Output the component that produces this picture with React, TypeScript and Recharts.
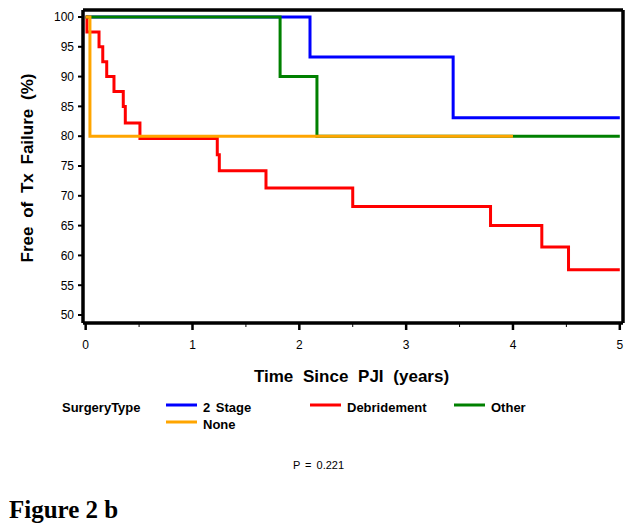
import React from 'react';
import { LineChart, Line, XAxis, YAxis } from 'recharts';

// Kaplan-Meier steps: time (years) -> % free of failure
const twoStageTimes = [0, 2.1, 3.44, 5];
const twoStageValues = [100, 93.3, 83.1, 83.1];

const debridementTimes = [0, 0.012, 0.125, 0.16, 0.197, 0.265, 0.352, 0.371, 0.508, 1.232, 1.251, 1.688, 2.5, 3.79, 4.27, 4.52, 5];
const debridementValues = [100, 97.5, 95, 92.5, 90, 87.5, 85, 82.2, 79.6, 76.9, 74.2, 71.3, 68.2, 65, 61.4, 57.6, 57.6];

const otherTimes = [0, 1.82, 2.165, 5];
const otherValues = [100, 90, 80, 80];

const noneTimes = [0, 0.04, 4.0];
const noneValues = [100, 80, 80];

const xTicks = [0, 0.5, 1, 1.5, 2, 2.5, 3, 3.5, 4, 4.5, 5];
const yTicks = [50, 55, 60, 65, 70, 75, 80, 85, 90, 95, 100];

const toRows = (t: number[], v: number[]) => t.map((x, i) => ({ t: x, v: v[i] }));

const FONT = '"Liberation Sans", Arial, sans-serif';

const XTick = (props: any) => {
  const { x, y, payload } = props;
  const major = Number.isInteger(payload.value);
  return (
    <g>
      <line x1={x} x2={x} y1={y} y2={y + (major ? 7 : 4)} stroke="#000" strokeWidth={major ? 2.5 : 1} />
      {major && (
        <text x={x} y={y + 25.5} textAnchor="middle" fontSize={12} fontFamily={FONT} fill="#000">
          {payload.value}
        </text>
      )}
    </g>
  );
};

const YTick = (props: any) => {
  const { x, y, payload } = props;
  return (
    <g>
      <line x1={x - 5} x2={x} y1={y} y2={y} stroke="#000" strokeWidth={2} />
      <text x={x - 9} y={y + 4.3} textAnchor="end" fontSize={12} fontFamily={FONT} fill="#000">
        {payload.value}
      </text>
    </g>
  );
};

const legendItems = [
  { name: '2 Stage', color: '#0000ff', x: 166, y: 405 },
  { name: 'Debridement', color: '#ff0000', x: 310, y: 405 },
  { name: 'Other', color: '#008000', x: 454, y: 405 },
  { name: 'None', color: '#ffa500', x: 166, y: 422 },
];

export default function App() {
  const axisLine = { stroke: '#000', strokeWidth: 3.5 };
  return (
    <div style={{ position: 'absolute', left: 0, top: 0, width: 634, height: 532, background: '#fff' }}>
      <LineChart width={634} height={400} margin={{ top: 0, right: 0, bottom: 0, left: 0 }}>
        <XAxis
          type="number"
          dataKey="t"
          domain={[-0.025, 5.03]}
          allowDataOverflow
          ticks={xTicks}
          interval={0}
          height={77}
          tickSize={0}
          tickMargin={0}
          tickLine={false}
          axisLine={axisLine}
          tick={<XTick />}
        />
        <XAxis
          xAxisId="top"
          orientation="top"
          type="number"
          domain={[-0.025, 5.03]}
          allowDataOverflow
          height={10}
          tick={false}
          tickLine={false}
          axisLine={axisLine}
        />
        <YAxis
          type="number"
          domain={[48.66, 101.17]}
          allowDataOverflow
          ticks={yTicks}
          interval={0}
          width={83}
          tickSize={0}
          tickMargin={0}
          tickLine={false}
          axisLine={axisLine}
          tick={<YTick />}
        />
        <YAxis
          yAxisId="r"
          orientation="right"
          type="number"
          domain={[48.66, 101.17]}
          allowDataOverflow
          width={11}
          tick={false}
          tickLine={false}
          axisLine={axisLine}
        />
        <Line data={toRows(twoStageTimes, twoStageValues)} dataKey="v" type="stepAfter" stroke="#0000ff" strokeWidth={3} dot={false} activeDot={false} isAnimationActive={false} />
        <Line data={toRows(debridementTimes, debridementValues)} dataKey="v" type="stepAfter" stroke="#ff0000" strokeWidth={3} dot={false} activeDot={false} isAnimationActive={false} />
        <Line data={toRows(otherTimes, otherValues)} dataKey="v" type="stepAfter" stroke="#008000" strokeWidth={3} dot={false} activeDot={false} isAnimationActive={false} />
        <Line data={toRows(noneTimes, noneValues)} dataKey="v" type="stepAfter" stroke="#ffa500" strokeWidth={3} dot={false} activeDot={false} isAnimationActive={false} />
      </LineChart>
      <svg width={634} height={532} style={{ position: 'absolute', left: 0, top: 0, pointerEvents: 'none' }}>
        <text
          transform="translate(33,168) rotate(-90)"
          textAnchor="middle"
          fontSize={17}
          fontWeight="bold"
          fontFamily={FONT}
          wordSpacing={4}
          fill="#000"
        >
          Free of Tx Failure (%)
        </text>
        <text x={351.5} y={382} textAnchor="middle" fontSize={17} fontWeight="bold" fontFamily={FONT} wordSpacing={5} fill="#000">
          Time Since PJI (years)
        </text>
        <text x={62} y={412} fontSize={13} fontWeight="bold" fontFamily={FONT} fill="#000">
          SurgeryType
        </text>
        {legendItems.map(item => (
          <g key={item.name}>
            <line x1={item.x} x2={item.x + 31} y1={item.y} y2={item.y} stroke={item.color} strokeWidth={3} />
            <text x={item.x + 37} y={item.y + 7} fontSize={13} fontWeight="bold" fontFamily={FONT} wordSpacing={2} fill="#000">
              {item.name}
            </text>
          </g>
        ))}
        <text x={318.5} y={469} textAnchor="middle" fontSize={11} fontFamily={FONT} wordSpacing={2} fill="#000">
          P = 0.221
        </text>
        <text x={9} y={518} fontSize={25} fontWeight="bold" fontFamily='"Liberation Serif", "Times New Roman", serif' fill="#000">
          Figure 2 b
        </text>
      </svg>
    </div>
  );
}
